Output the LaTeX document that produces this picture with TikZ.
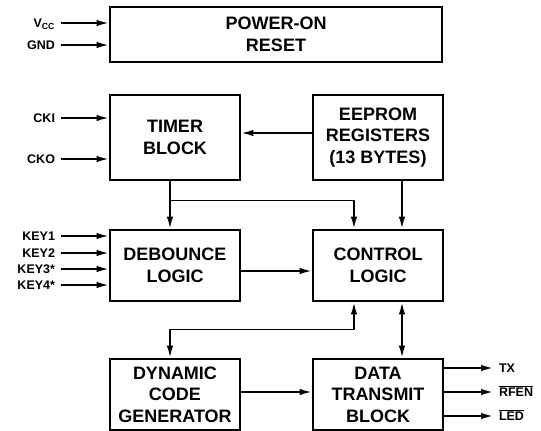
\documentclass[tikz,border=0pt]{standalone}
\usepackage{fontspec}
\setmainfont{Liberation Sans}
\usetikzlibrary{calc,positioning,arrows.meta}

\newcommand{\barsig}[1]{\ensuremath{\overline{\hbox{#1}}}}

\tikzset{
  blk/.style={draw, line width=2.8pt, minimum width=130pt, minimum height=71pt,
    align=center, font=\fontsize{18}{21.5}\selectfont\bfseries, inner sep=0pt},
  sig/.style={line width=1.7pt, -{Latex[length=12pt,width=6.5pt]}},
  lbl/.style={inner sep=0pt, outer xsep=6pt, text height=9pt, text depth=0pt,
    font=\fontsize{12.5}{14}\selectfont\bfseries}
}

\begin{document}
\begin{tikzpicture}[x=1pt, y=-1pt]
  \useasboundingbox (0,0) rectangle (541,431);

  % Blocks
  \node[blk, minimum width=332pt, minimum height=55pt] (por) at (276,34.5) {POWER-ON\\RESET};
  \node[blk, minimum height=85pt] (timer) at (175,137.5) {TIMER\\BLOCK};
  \node[blk, minimum height=85pt] (eeprom) at (378,137.5) {EEPROM\\REGISTERS\\(13 BYTES)};
  \node[blk] (debounce) at (175,265.5) {DEBOUNCE\\LOGIC};
  \node[blk] (control) at (378,265.5) {CONTROL\\LOGIC};
  \node[blk] (dcg) at (175,394.5) {DYNAMIC\\CODE\\GENERATOR};
  \node[blk] (dtb) at (378,394.5) {DATA\\TRANSMIT\\BLOCK};

  % Supply pins
  \node[lbl, anchor=east] (vcc) at (61,23) {V\textsubscript{CC}};
  \node[lbl, anchor=east] (gnd) at (61,45) {GND};
  \draw[sig] (vcc.east) -- (vcc.east -| por.west);
  \draw[sig] (gnd.east) -- (gnd.east -| por.west);

  % Clock pins
  \node[lbl, anchor=east] (cki) at (61,118) {CKI};
  \node[lbl, anchor=east] (cko) at (61,159) {CKO};
  \draw[sig] (cki.east) -- (cki.east -| timer.west);
  \draw[sig] (cko.east) -- (cko.east -| timer.west);

  % Key inputs
  \node[lbl, anchor=east] (key1) at (61,236) {KEY1};
  \node[lbl, anchor=east] (key2) at (61,253) {KEY2};
  \node[lbl, anchor=east] (key3) at (61,269) {KEY3*};
  \node[lbl, anchor=east] (key4) at (61,285) {KEY4*};
  \foreach \k in {key1,key2,key3,key4}
    \draw[sig] (\k.east) -- (\k.east -| debounce.west);

  % Internal connections
  \draw[sig] ([yshift=4.5pt]eeprom.west) -- ([yshift=4.5pt]timer.east);
  \draw[sig] ([xshift=-5pt]timer.south) -- ([xshift=-5pt]debounce.north);
  \coordinate (tap) at ($([xshift=-5pt]timer.south)+(0,19)$);
  \draw[sig] (tap) -| ([xshift=-24pt]control.north);
  \draw[sig] ([xshift=24pt]eeprom.south) -- ([xshift=24pt]control.north);
  \draw[sig] ([yshift=-5.5pt]debounce.east) -- ([yshift=-5.5pt]control.west);
  \draw[sig, {Latex[length=12pt,width=6.5pt]}-{Latex[length=12pt,width=6.5pt]}]
    ([xshift=-24pt]control.south) -- ++(0,27) -| ([xshift=-5pt]dcg.north);
  \draw[sig, {Latex[length=12pt,width=6.5pt]}-{Latex[length=12pt,width=6.5pt]}]
    ([xshift=24pt]control.south) -- ([xshift=24pt]dtb.north);
  \draw[sig] ([yshift=2.5pt]dcg.east) -- ([yshift=2.5pt]dtb.west);

  % Outputs
  \node[lbl, anchor=west] (tx) at (493,368) {TX};
  \node[lbl, anchor=west] (rfen) at (493,392) {\barsig{RFEN}};
  \node[lbl, anchor=west] (led) at (493,416) {\barsig{LED}};
  \foreach \o in {tx,rfen,led}
    \draw[sig] (\o.west -| dtb.east) -- (\o.west);
\end{tikzpicture}
\end{document}
